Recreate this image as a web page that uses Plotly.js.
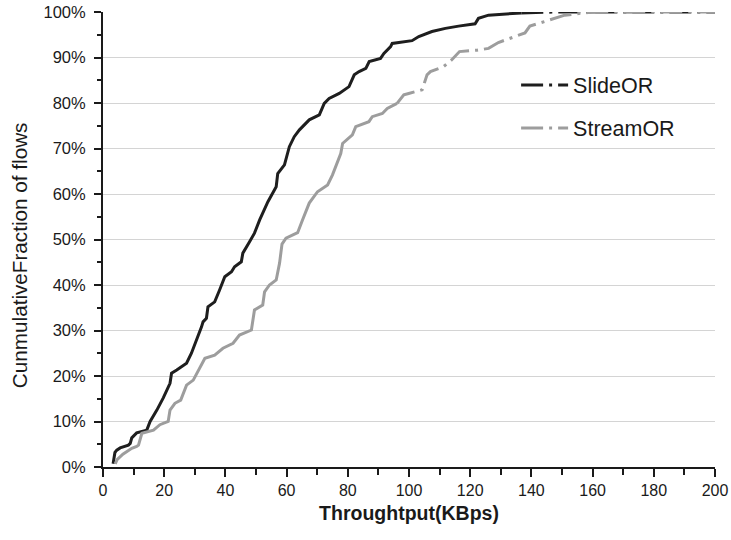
<!DOCTYPE html>
<html><head><meta charset="utf-8">
<script src="https://cdn.plot.ly/plotly-3.0.1.min.js"></script>
<style>body{margin:0;background:#fff}#chart{width:731px;height:540px}</style>
</head><body><div id="chart"></div>
<script>
const slideX = [3.3,3.9,4.5,5.6,8.3,8.9,9.4,10.5,11,14.3,15.4,17.6,19.2,19.7,21.9,22.4,24.1,27.3,28.9,30,30.6,32.2,32.7,33.8,34.3,36.5,38.1,39.8,42,43,45.2,45.7,47.9,49.5,51.2,53.9,56.6,57.1,59.3,60.9,62.5,64.2,67.4,70.7,72.3,73.9,77.2,80.4,82.1,83.7,85.9,87,90.7,91.8,94,94.5,101,103.2,107.5,111.9,116.2,121.6,122.7,126,136.7,148,160,180,200];
const slideY = [0.7,3.2,3.7,4.2,4.8,5.2,6.4,7.2,7.5,8.1,10,12.5,14.4,15.2,18.4,20.6,21.3,22.8,25,26.8,27.9,30.8,31.9,32.7,35.2,36.3,38.9,41.8,42.9,44,45.1,47,49.5,51.4,54.3,58.3,61.6,64.5,66.4,70.4,72.6,74.1,76.3,77.4,79.9,81,82.1,83.6,86.2,86.9,87.6,89.1,89.8,90.9,92.4,93.1,93.7,94.6,95.7,96.4,96.9,97.4,98.6,99.3,99.8,100,100,100,100];
const streamX = [4,4.6,6.5,9.4,11,11.6,12.7,16.5,18.6,21.3,21.9,23.5,25.4,27.3,29.5,31.6,33.3,36.5,39.2,42.5,44.6,48.5,49.5,52.2,52.8,54.4,56.6,57.7,58.5,59.8,63.6,65.2,67.4,70.1,73.4,75,77.7,78.3,81.5,82.6,86.9,88,91.3,92.9,96.1,98.3,99.9,104.3,105.9,107,111.3,114,116.5,122.2,126,129.2,134.6,137.9,139.5,145.5,150.9,158.5,170,185,200];
const streamY = [0.7,1.6,2.8,4.1,4.5,4.8,7.4,8.1,9.3,10,12.5,14,14.7,18,19.1,21.7,23.9,24.6,26.1,27.2,29,30.1,34.5,35.6,38.5,40,41.1,44.8,49,50.3,51.5,54.3,58,60.5,62,64.2,68.9,71.1,73,74.8,75.9,77,77.7,78.8,79.9,81.8,82.1,82.9,86.2,86.9,88,89.5,91.3,91.6,92,93.3,94.6,95.4,96.9,98.2,99.3,99.9,100,100,100];
const seriesNames = ['SlideOR','StreamOR'];
const xTitle = 'Throughtput(KBps)';
const yTitle = 'CunmulativeFraction of flows';

const slideSplit = slideX.indexOf(136.7);
const streamSplit = streamX.indexOf(96.1);
const dashPat = '22px,6px,3px,6px';
const blk = '#1e1e1e', gry = '#9d9d9d';

const traces = [
  {x: slideX.slice(0, slideSplit+1), y: slideY.slice(0, slideSplit+1), mode:'lines', showlegend:false,
   line:{color:blk, width:3}, hoverinfo:'skip'},
  {x: slideX.slice(slideSplit), y: slideY.slice(slideSplit), mode:'lines', name: seriesNames[0], legend:'legend',
   line:{color:blk, width:3, dash:dashPat}},
  {x: streamX.slice(0, streamSplit+1), y: streamY.slice(0, streamSplit+1), mode:'lines', showlegend:false,
   line:{color:gry, width:3}, hoverinfo:'skip'},
  {x: streamX.slice(streamSplit), y: streamY.slice(streamSplit), mode:'lines', name: seriesNames[1], legend:'legend2',
   line:{color:gry, width:3, dash:dashPat}}
];

const font = {family:'Arial, "Liberation Sans", sans-serif', color:'#1a1a1a'};
const layout = {
  width:731, height:540,
  margin:{l:103, r:16, t:12, b:73},
  paper_bgcolor:'#fff', plot_bgcolor:'#fff',
  font: Object.assign({size:16}, font),
  xaxis:{
    range:[0,200], dtick:20, tick0:0, showgrid:false, zeroline:false,
    showline:true, linecolor:'#1a1a1a', linewidth:2,
    ticks:'outside', ticklen:8, tickwidth:2, tickcolor:'#1a1a1a',
    tickfont:{size:16},
    minor:{dtick:10, ticks:'outside', ticklen:6, tickwidth:2, tickcolor:'#1a1a1a', showgrid:false},
    title:{text:'<b>'+xTitle+'</b>', font:{size:19.5}, standoff:8}
  },
  yaxis:{
    range:[0,100], dtick:10, tick0:0, ticksuffix:'%',
    showgrid:true, gridcolor:'#d4d4d4', gridwidth:1, zeroline:false,
    showline:true, linecolor:'#1a1a1a', linewidth:2,
    ticks:'outside', ticklen:7, tickwidth:2, tickcolor:'#1a1a1a',
    tickfont:{size:16.5}, ticklabelstandoff:5,
    minor:{dtick:5, ticks:'outside', ticklen:4, tickwidth:2, tickcolor:'#1a1a1a', showgrid:false}
  },
  annotations:[{
    text: yTitle, textangle:-90, xref:'paper', yref:'paper',
    x:-0.137, xanchor:'center', y:(467-255)/455, yanchor:'middle',
    showarrow:false, font:{size:20.7}
  }],
  legend:{x:0.675, xanchor:'left', y:0.8396, yanchor:'middle', bgcolor:'rgba(0,0,0,0)',
    font:{size:21.5}, itemwidth:47},
  legend2:{x:0.675, xanchor:'left', y:0.745, yanchor:'middle', bgcolor:'rgba(0,0,0,0)',
    font:{size:21.5}, itemwidth:47},
  showlegend:true
};
Plotly.newPlot('chart', traces, layout, {displayModeBar:false, staticPlot:true});
</script>
</body></html>
